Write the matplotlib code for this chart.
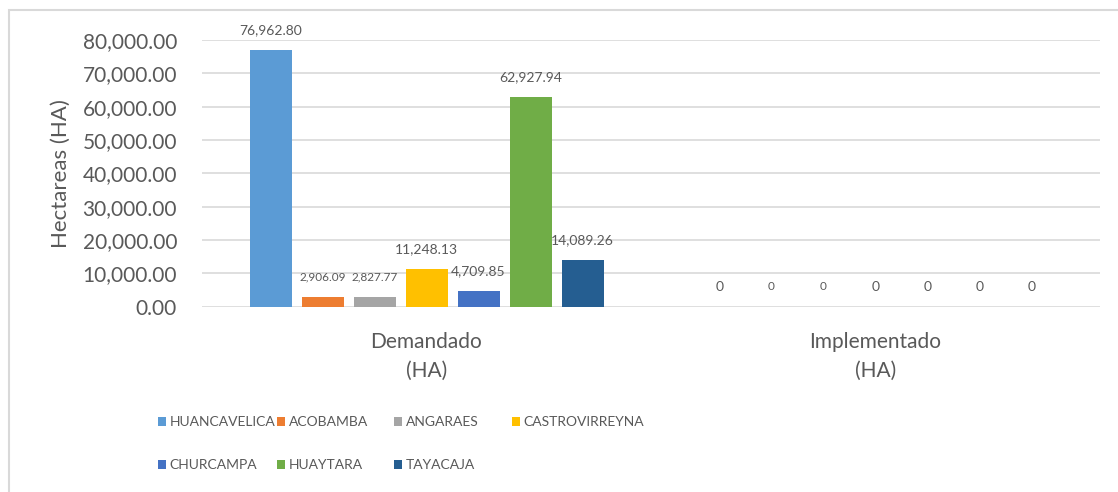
import matplotlib
matplotlib.use("Agg")
import matplotlib.pyplot as plt
from matplotlib import font_manager as fm
from matplotlib.patches import Rectangle

# ---- data ----
categories = ["Demandado\n(HA)", "Implementado\n(HA)"]
provinces = ["HUANCAVELICA", "ACOBAMBA", "ANGARAES", "CASTROVIRREYNA",
             "CHURCAMPA", "HUAYTARA", "TAYACAJA"]
demandado = [76962.80, 2906.09, 2827.77, 11248.13, 4709.85, 62927.94, 14089.26]
implementado = [0, 0, 0, 0, 0, 0, 0]
y_ticks = [0, 10000, 20000, 30000, 40000, 50000, 60000, 70000, 80000]
y_label = "Hectareas (HA)"

# ---- style ----
colors = ["#5B9BD5", "#ED7D31", "#A5A5A5", "#FFC000", "#4472C4", "#70AD47", "#255E91"]
label_sizes = [10, 8.5, 8.5, 10, 10, 10, 10]
txt = "#595959"
grid_c = "#D9D9D9"

avail = {f.name for f in fm.fontManager.ttflist}
base_font = "Lato" if "Lato" in avail else "DejaVu Sans"
plt.rcParams["font.family"] = [base_font, "DejaVu Sans"]

W, H = 1118, 492
fig = plt.figure(figsize=(W / 100, H / 100), dpi=100)
ax = fig.add_axes([202 / W, (H - 306.7) / H, (1100 - 202) / W, (306.7 - 40) / H])

step = 52 / 449
width = 42 / 449
series = list(zip(demandado, implementado))
bars = []
for i, name in enumerate(provinces):
    xs = [c + (i - 3) * step for c in range(len(categories))]
    b = ax.bar(xs, series[i], width=width, color=colors[i], label=name, zorder=3)
    bars.append(b)
    for j, (x, v) in enumerate(zip(xs, series[i])):
        s = f"{v:,.2f}" if v != 0 else "0"
        ax.annotate(s, (x, v), xytext=(0, 20), textcoords="offset pixels",
                    ha="center", va="center", fontsize=label_sizes[i], color=txt)

ax.set_xlim(-0.5, len(categories) - 0.5)
ax.set_ylim(y_ticks[0], y_ticks[-1])
ax.set_yticks(y_ticks)
ax.set_yticklabels([f"{t:,.2f}" for t in y_ticks])
ax.set_xticks(range(len(categories)))
ax.set_xticklabels(categories, linespacing=1.55)
ax.tick_params(axis="y", length=0, pad=18, labelsize=15, labelcolor=txt)
ax.tick_params(axis="x", length=0, pad=18, labelsize=15, labelcolor=txt)
ax.set_ylabel(y_label, fontsize=16, color=txt)
ax.yaxis.set_label_coords(-0.146, 0.5)
ax.grid(axis="y", color=grid_c, linewidth=1.2, zorder=0)
for sp in ax.spines.values():
    sp.set_visible(False)

# legend: columns laid out separately for uniform column width
col_x = [158, 277, 394, 512]
handles = [b for b in bars]
cols = [[0, 4], [1, 5], [2, 6], [3]]
for cx, idx in zip(col_x, cols):
    leg = fig.legend([handles[k] for k in idx], [provinces[k] for k in idx],
                     loc="upper left", bbox_to_anchor=(cx / W, (H - 416) / H),
                     frameon=False, borderpad=0, borderaxespad=0,
                     handlelength=0.6, handleheight=0.6, handletextpad=0.25,
                     labelspacing=2.25,
                     prop={"family": base_font, "size": 10})
    for t in leg.get_texts():
        t.set_color(txt)

# outer chart border
fig.patches.append(Rectangle((8.5 / W, -0.1), 1.2, (H - 10) / H + 0.1,
                             transform=fig.transFigure, fill=False,
                             edgecolor=grid_c, linewidth=1.5))

fig.savefig("out.png", dpi=100, facecolor="white")
